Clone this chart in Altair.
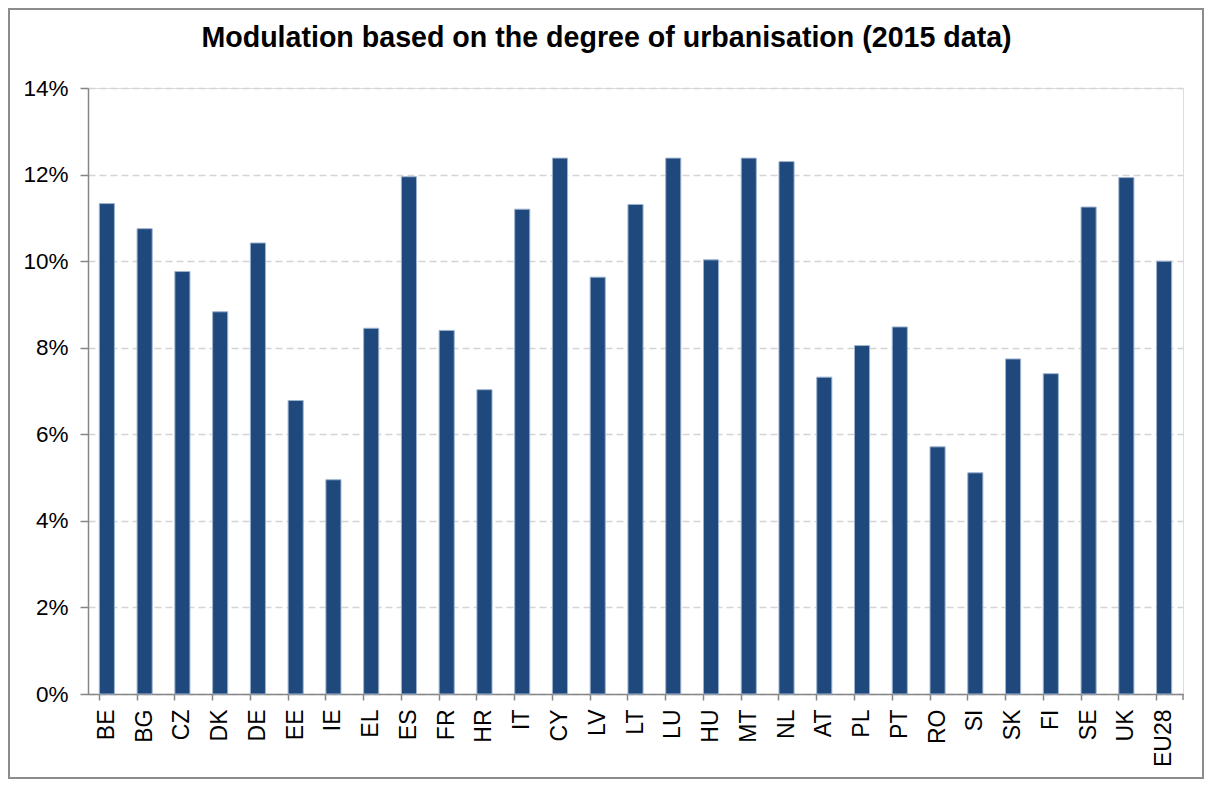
import altair as alt
import pandas as pd

countries = ["BE", "BG", "CZ", "DK", "DE", "EE", "IE", "EL", "ES", "FR", "HR", "IT", "CY", "LV",
             "LT", "LU", "HU", "MT", "NL", "AT", "PL", "PT", "RO", "SI", "SK", "FI", "SE", "UK", "EU28"]
values = [11.33, 10.75, 9.76, 8.83, 10.42, 6.78, 4.95, 8.45, 11.95, 8.40, 7.03, 11.20, 12.38, 9.63,
          11.31, 12.38, 10.03, 12.38, 12.30, 7.32, 8.05, 8.48, 5.71, 5.11, 7.74, 7.40, 11.25, 11.93, 10.00]
y_ticks = [0, 2, 4, 6, 8, 10, 12, 14]
title_text = ["Modulation based on the degree of urbanisation (2015 data)"]

df = pd.DataFrame({"country": countries, "value": [v / 100 for v in values]})

W, H = 1095, 606
PAD_L, PAD_T, PAD_R, PAD_B = 80, 80, 21, 85

bars = alt.Chart(df).mark_bar(
    color="#1F497D", stroke="#9DB3CF", strokeWidth=1
).encode(
    x=alt.X("country:N", sort=countries, title=None,
            scale=alt.Scale(paddingInner=0.6, paddingOuter=0.3),
            axis=alt.Axis(labelAngle=-90, labelAlign="right", labelBaseline="middle",
                          labelFontSize=23, labelFont="Liberation Sans", labelColor="#000000",
                          labelPadding=9, tickSize=6, tickColor="#868686", domainColor="#868686",
                          bandPosition=0, ticks=True, grid=False, domainWidth=1.5, tickWidth=1.5)),
    y=alt.Y("value:Q", title=None,
            scale=alt.Scale(domain=[0, 0.14], nice=False),
            axis=alt.Axis(values=[t / 100 for t in y_ticks], format=".0%",
                          labelFontSize=22.5, labelFont="Liberation Sans", labelColor="#000000",
                          labelPadding=12, tickSize=8, tickColor="#868686", domainColor="#868686",
                          domainWidth=1.5, tickWidth=1.5,
                          grid=True, gridColor="#D4D4D4", gridDash=[7, 4], gridWidth=1.6)),
)

end_tick = alt.Chart(pd.DataFrame({"k": [0]})).mark_rule(color="#868686", strokeWidth=1.5).encode(
    x=alt.value(W), y=alt.value(H), y2=alt.value(H + 6)
)

border = alt.Chart(pd.DataFrame({"k": [0]})).mark_rect(
    filled=False, stroke="#8C8C8C", strokeWidth=2, clip=False
).encode(
    x=alt.value(-PAD_L + 1), x2=alt.value(W + PAD_R - 1),
    y=alt.value(-PAD_T + 1), y2=alt.value(H + PAD_B - 1)
)

title = alt.Chart(pd.DataFrame({"t": title_text})).mark_text(
    font="Liberation Sans", fontSize=28.6, fontWeight="bold", color="#000000",
    align="center", baseline="alphabetic", clip=False
).encode(
    text="t:N", x=alt.value(W / 2 - 29), y=alt.value(-41)
)

chart = alt.layer(bars, end_tick, border, title).properties(
    width=W, height=H,
    padding={"left": PAD_L, "top": PAD_T, "right": PAD_R, "bottom": PAD_B},
    autosize=alt.AutoSizeParams(type="none"),
).configure_view(stroke=None).configure(background="white")

chart.save("out.html", embed_options={"renderer": "svg", "actions": False})
